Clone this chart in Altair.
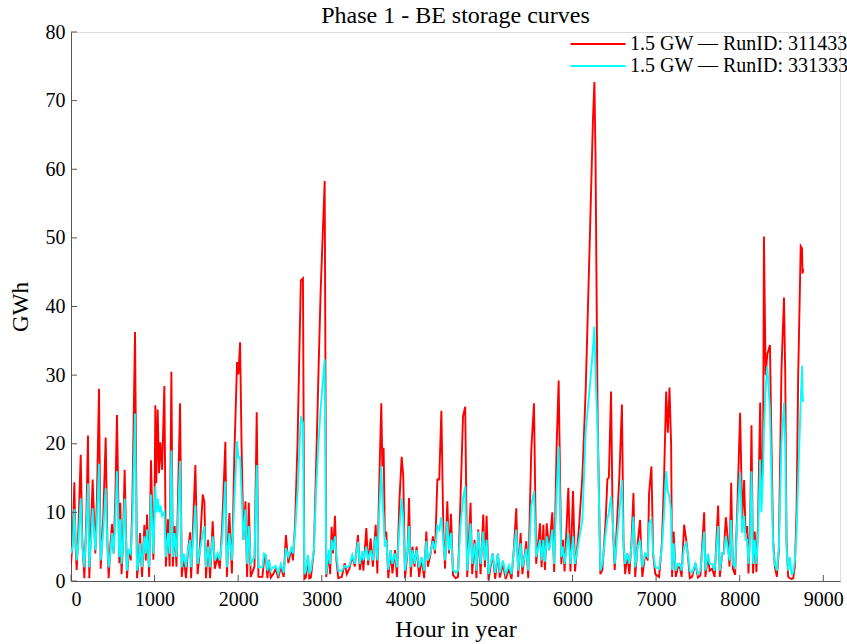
import altair as alt
import pandas as pd

# hour in year
hours = [0, 20, 40, 55, 68, 90, 116, 135, 160, 185, 203, 219, 240, 259, 291, 310, 335, 355, 385, 415,
         435, 451, 470, 491, 510, 530, 550, 578, 590, 605, 620, 642, 670, 690, 715, 735, 766, 790, 810, 826,
         850, 878, 895, 910, 935, 957, 985, 1000, 1009, 1020, 1037, 1053, 1069, 1090, 1117, 1135, 1160, 1180, 1201, 1218,
         1240, 1262, 1305, 1325, 1350, 1375, 1400, 1425, 1437, 1460, 1488, 1515, 1536, 1576, 1596, 1615, 1640, 1664, 1695, 1720,
         1755, 1780, 1807, 1847, 1865, 1895, 1925, 1955, 1987, 2003, 2023, 2040, 2063, 2087, 2107, 2127, 2150, 2195, 2222, 2242,
         2290, 2310, 2330, 2350, 2368, 2390, 2420, 2448, 2480, 2510, 2545, 2571, 2600, 2639, 2655, 2680, 2710, 2735, 2750, 2775,
         2792, 2810, 2835, 2850, 2870, 2906, 2935, 2960, 2986, 3010, 3035, 3054, 3070, 3086, 3100, 3118, 3135, 3158, 3175, 3198,
         3240, 3274, 3300, 3330, 3365, 3395, 3433, 3455, 3485, 3498, 3533, 3555, 3585, 3612, 3645, 3665, 3685, 3712, 3725, 3740,
         3755, 3772, 3796, 3825, 3845, 3876, 3900, 3930, 3956, 3975, 3996, 4028, 4044, 4065, 4085, 4110, 4135, 4165, 4195, 4225,
         4251, 4270, 4302, 4330, 4355, 4383, 4405, 4431, 4455, 4475, 4502, 4522, 4546, 4570, 4602, 4630, 4660, 4690, 4716, 4740,
         4780, 4800, 4828, 4850, 4872, 4900, 4932, 4952, 4972, 4995, 5044, 5075, 5107, 5130, 5167, 5200, 5240, 5270, 5299, 5327,
         5350, 5379, 5400, 5447, 5470, 5507, 5539, 5565, 5611, 5630, 5651, 5670, 5691, 5720, 5758, 5780, 5810, 5834, 5866, 5885,
         5905, 5950, 5975, 6006, 6030, 6078, 6118, 6158, 6205, 6245, 6262, 6275, 6300, 6333, 6357, 6397, 6417, 6435, 6461, 6480,
         6505, 6530, 6560, 6591, 6610, 6630, 6655, 6680, 6705, 6729, 6750, 6780, 6808, 6835, 6870, 6900, 6916, 6944, 6965, 6990,
         7036, 7070, 7096, 7120, 7140, 7160, 7180, 7191, 7210, 7236, 7260, 7285, 7305, 7335, 7360, 7380, 7403, 7430, 7470, 7500,
         7530, 7575, 7590, 7620, 7640, 7670, 7700, 7742, 7762, 7790, 7810, 7834, 7855, 7878, 7898, 7918, 7945, 7975, 8005, 8030,
         8053, 8070, 8090, 8105, 8125, 8141, 8160, 8180, 8200, 8220, 8245, 8260, 8280, 8290, 8310, 8330, 8362, 8380, 8400, 8420,
         8445, 8468, 8500, 8530, 8545, 8560, 8580, 8600, 8620, 8640, 8660, 8680, 8700, 8730, 8745, 8752, 8760]

# storage level, GWh — RunID 311433 (red)
run_311433 = [2.5, 6, 14.4, 5, 1.6, 8, 18.4, 6, 0.4, 10, 21.2, 0.4, 8, 14.8, 4.0, 12, 28.0, 1.8, 9, 20.9,
              6, 0.4, 5, 8.3, 4, 12, 24.2, 2.6, 11.4, 1.0, 5, 16.2, 0.4, 4.5, 3, 12, 36.3, 0.4, 3, 7.0,
              0.6, 8.2, 3, 9.7, 0.6, 17.6, 3.1, 12, 25.6, 14.3, 25.0, 15.7, 20.2, 16.2, 28.4, 2.1, 9, 2.1, 30.5, 2.1,
              8.0, 2.1, 25.9, 0.6, 3.8, 0.4, 4.5, 7.1, 0.4, 8, 16.9, 1.0, 3.8, 12.6, 11.5, 0.4, 6.0, 0.4, 8.7, 1.8,
              3.5, 1.8, 7.7, 20.3, 0.6, 9.9, 1.1, 18.7, 31.9, 30.1, 34.8, 20.1, 6.0, 11.6, 0.6, 11.4, 0.6, 2.1, 24.6, 0.6,
              0.6, 3.1, 3.8, 0.4, 3.1, 0.5, 1.0, 1.8, 0.4, 2.1, 0.6, 6.7, 2.6, 4.8, 3.0, 8, 20, 35, 43.8, 44.1,
              0.3, 0.5, 3.5, 0.4, 0.5, 4.5, 18, 30, 42, 50, 58.3, 0.6, 2.5, 4.0, 1.0, 7.9, 4.0, 9.5, 3.1, 0.4,
              0.6, 2.6, 1.0, 1.8, 3.6, 2.1, 6.7, 1.6, 4.0, 1.5, 7.7, 2.3, 6.2, 2.1, 8.2, 1.1, 12.8, 25.9, 16.7, 19.4,
              6.5, 7.2, 0.4, 4.5, 1.1, 4.5, 0.6, 12, 18.1, 15.3, 0.4, 4.5, 12.1, 0.6, 5.0, 2.1, 5.0, 0.6, 3.3, 0.4,
              7.2, 2.1, 4.0, 6.5, 4.0, 14.8, 14.8, 24.8, 7.0, 1.8, 11.6, 4.0, 9.8, 0.9, 0.4, 0.6, 12, 24, 25.4, 0.6,
              11.4, 1.0, 6.0, 0.4, 7.5, 1.0, 9.7, 2.0, 9.5, 0.1, 4.0, 0.3, 4.0, 0.5, 2.5, 0.3, 1.8, 0.3, 4.8, 10.6,
              0.6, 7.0, 1.0, 5.8, 0.4, 19.2, 25.9, 2.5, 8.4, 2.0, 8.2, 1.6, 8.4, 4.5, 10.0, 1.3, 19.7, 29.2, 2.5, 6.0,
              1.4, 13.6, 1.4, 13.1, 1.4, 7.9, 15.3, 28.0, 49, 67.5, 72.7, 62, 24, 1.0, 1.6, 8.9, 14.8, 15.1, 27.6, 8.9,
              1.6, 8, 15.1, 25.7, 5.6, 1.0, 4.0, 1.0, 5.6, 12.8, 0.6, 5.6, 8.9, 0.6, 4.0, 3.0, 12.8, 16.7, 3.8, 1.0,
              0.6, 5.6, 15.3, 27.6, 21.6, 28.2, 19.7, 0.6, 7.2, 0.6, 2.0, 2.0, 0.6, 8.2, 6.0, 3.8, 0.4, 0.6, 2.6, 0.5,
              0.8, 10.0, 0.6, 3.8, 1.5, 1.8, 0.6, 11.0, 0.6, 4.0, 4.0, 9.3, 6.5, 2.1, 14.3, 1.8, 0.9, 12, 24.5, 8.9,
              14.7, 7, 8, 1.1, 8, 22.7, 1.1, 7.2, 1.3, 9.0, 26.0, 14.3, 18.7, 50.2, 30, 33, 34.4, 20, 6.0, 2.1,
              0.6, 4.5, 30.9, 41.3, 30, 6.0, 0.6, 0.4, 0.3, 0.4, 2.1, 10, 30, 48.8, 48.5, 44.8, 45.5]

# storage level, GWh — RunID 331333 (cyan)
run_331333 = [4.0, 5, 10.5, 6, 3, 6, 12, 5, 2, 8, 14.2, 2, 6, 10.6, 4.5, 9, 17.1, 3, 7, 13.5,
              5, 2.0, 4, 7, 4, 9, 16.0, 3.5, 9, 2.5, 5, 12.0, 1.5, 4.5, 4, 9, 24.4, 1.5, 3, 5.5,
              2, 6.5, 4, 7.5, 2, 12.6, 4, 10, 13.8, 10, 12, 10, 11, 9.5, 10.1, 3.5, 7, 4, 19.0, 3.5,
              7, 3.5, 17.5, 2, 4, 2, 4.5, 6, 2, 6, 11.0, 2.5, 4.0, 7.0, 8, 2, 5, 2, 6.5, 3,
              4, 3, 6, 14.5, 2, 7, 3, 12, 20.4, 18, 18.0, 13, 6, 10.4, 2.5, 8, 2.5, 3.5, 16.9, 2,
              2, 4, 3.8, 1.5, 3.0, 1.5, 2.0, 2.2, 1.0, 2.5, 1.2, 4.8, 3.5, 4.8, 4.0, 7, 13, 20, 24, 23.0,
              1.0, 1.5, 3.8, 1.2, 1.5, 4.5, 14, 20, 25, 28.7, 32.3, 1.0, 3.0, 4.5, 2.5, 6.0, 4.5, 6.5, 3.8, 1.5,
              1.5, 2.2, 2.0, 2.2, 3.8, 2.5, 5.7, 2.5, 4.4, 3.0, 5.0, 3.0, 4.5, 3.0, 6.5, 3.0, 9.5, 16.7, 12, 9.4,
              5, 6.0, 1.6, 4.5, 2.5, 4.0, 2.0, 8, 12.1, 9, 1.5, 4.5, 8.0, 2.0, 4.5, 2.5, 4.5, 2.0, 3.5, 1.5,
              5.8, 3.0, 4.2, 5.8, 4.5, 8.0, 7.5, 9.3, 5.5, 3, 8.7, 4.5, 7.0, 1.6, 1.2, 1.5, 8, 12, 13.8, 1.5,
              8.4, 2.5, 5.5, 1.5, 7.2, 2.5, 7.2, 3.0, 6.0, 1.0, 4.0, 1.2, 4.0, 1.2, 3.0, 1.0, 2.3, 1.0, 4.5, 7.5,
              1.5, 5.5, 2.0, 4.7, 1.5, 11, 13.1, 3.5, 6.0, 3.0, 6.0, 2.8, 6.5, 4.5, 7.5, 2.5, 13, 19.6, 3.5, 5,
              2.5, 7.0, 2.5, 6.5, 2.5, 6.0, 8.9, 22, 28, 34, 37.1, 30, 22, 1.5, 2.5, 7, 9, 10, 12.3, 8.9,
              2.5, 6, 10, 14.7, 5, 2.5, 4.0, 2.5, 5.0, 9.4, 2.0, 5.0, 6.0, 2.0, 4.0, 3.5, 8.4, 9, 4.0, 2.0,
              1.8, 5.0, 10, 16.0, 13, 12.3, 10, 1.6, 5.5, 1.5, 2.5, 2.5, 1.5, 5.0, 5.5, 4.0, 1.5, 1.2, 2.5, 1.0,
              1.5, 7.2, 1.5, 4.0, 2.5, 2.5, 1.5, 8.0, 1.5, 4.0, 4.0, 6.5, 5, 3, 8.9, 2.5, 2.0, 10, 15.8, 7,
              9.5, 6, 6, 2.5, 6, 16.0, 2.5, 6, 2.5, 7, 17.7, 10, 16, 22, 28, 31.3, 25, 15.3, 5, 2.5,
              1.5, 4.5, 20, 26.0, 20, 5.0, 1.5, 3.5, 1.0, 1.2, 3.0, 7, 15, 26, 31.4, 27, 26.1]

series_names = ["1.5 GW \u2014 RunID: 311433", "1.5 GW \u2014 RunID: 331333"]
series_colors = ["#ff0000", "#00ffff"]
x_ticks = [0, 1000, 2000, 3000, 4000, 5000, 6000, 7000, 8000, 9000]
y_ticks = [0, 10, 20, 30, 40, 50, 60, 70, 80]

rows = []
for h, a, b in zip(hours, run_311433, run_331333):
    rows.append({"hour": h, "GWh": a, "series": series_names[0]})
    rows.append({"hour": h, "GWh": b, "series": series_names[1]})
df = pd.DataFrame(rows)

W, H = 769, 549
FONT = "Liberation Serif"
AX = "#555555"

xscale = alt.Scale(domain=[0, 9200], nice=False, zero=False)
yscale = alt.Scale(domain=[0, 80], nice=False)
color = alt.Color(
    "series:N",
    scale=alt.Scale(domain=series_names, range=series_colors),
    legend=alt.Legend(
        title=None, orient="none", legendX=517, legendY=2, padding=0,
        symbolType="M-5,0H5", symbolSize=121, symbolStrokeWidth=2,
        labelFont=FONT, labelFontSize=20, labelColor="black", labelOffset=22,
        rowPadding=2, labelLimit=400,
    ),
)

def line_layer(name):
    return alt.Chart(df).transform_filter(alt.datum.series == name).mark_line(
        strokeWidth=1.9, clip=True
    ).encode(
        x=alt.X("hour:Q", scale=xscale,
                axis=alt.Axis(title="Hour in year", values=x_ticks, format="d", grid=False,
                              ticks=False, domainColor=AX, domainWidth=1,
                              labelFont=FONT, labelFontSize=20, labelColor="black", labelPadding=8,
                              titleFont=FONT, titleFontSize=24, titleFontWeight="normal",
                              titleColor="black", titlePadding=8)),
        y=alt.Y("GWh:Q", scale=yscale,
                axis=alt.Axis(title="GWh", values=y_ticks, grid=False, ticks=False,
                              domainColor=AX, domainWidth=1,
                              labelFont=FONT, labelFontSize=20, labelColor="black", labelPadding=6,
                              titleFont=FONT, titleFontSize=23, titleFontWeight="normal",
                              titleColor="black", titlePadding=13)),
        color=color,
        order=alt.Order("hour:Q"),
    )

xt = alt.Chart(pd.DataFrame({"t": x_ticks})).mark_rule(color=AX, strokeWidth=1).encode(
    x=alt.X("t:Q", scale=xscale), y=alt.value(H), y2=alt.value(H - 6))
yt = alt.Chart(pd.DataFrame({"t": y_ticks})).mark_rule(color=AX, strokeWidth=1).encode(
    y=alt.Y("t:Q", scale=yscale), x=alt.value(0), x2=alt.value(6))

chart = alt.layer(line_layer(series_names[0]), line_layer(series_names[1]), xt, yt).properties(
    width=W, height=H,
    title=alt.Title("Phase 1 - BE storage curves", font=FONT, fontSize=24, fontWeight="normal",
                    color="black", anchor="middle", frame="group", offset=8, dy=14),
    autosize=alt.AutoSizeParams(type="none"),
    padding={"left": 71, "top": 32, "right": 7, "bottom": 63},
).configure_view(strokeWidth=0).configure(background="white")

chart.save("out.html", embed_options={"renderer": "svg", "actions": False})
